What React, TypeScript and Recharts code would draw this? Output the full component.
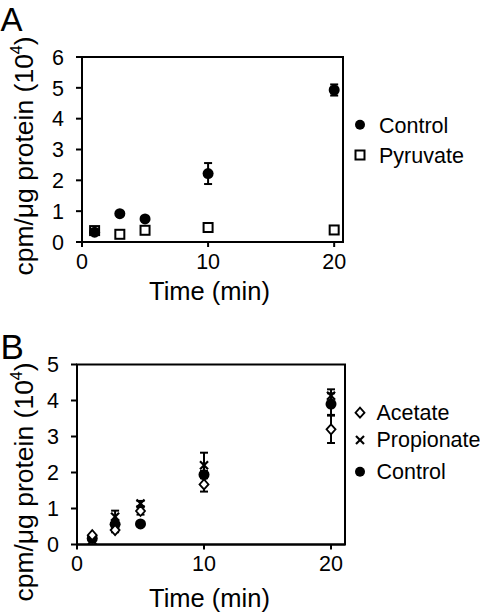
import React from 'react';
import { ScatterChart, Scatter, XAxis, YAxis, ErrorBar, ReferenceArea } from 'recharts';

// Panel A
const timeA = [1, 3, 5, 10, 20];
const controlA = [0.32, 0.92, 0.75, 2.22, 4.93];
const controlAErr = [null, null, null, 0.34, 0.18];
const pyruvateA = [0.37, 0.25, 0.38, 0.47, 0.39];
const pyruvateAErr = [null, null, null, null, null];
const yTicksA = [0, 1, 2, 3, 4, 5, 6];
const xTicks = [0, 10, 20];

// Panel B
const timeB = [1.2, 3, 5, 10, 20];
const acetateB = [0.26, 0.4, 0.93, 1.67, 3.2];
const acetateBErr = [null, 0.06, 0.1, 0.2, 0.38];
const propionateB = [0.12, 0.77, 1.14, 2.2, 4.13];
const propionateBErr = [null, 0.17, 0.07, 0.35, 0.18];
const controlB = [0.17, 0.56, 0.57, 1.94, 3.9];
const controlBErr = [null, 0.1, null, 0.1, 0.3];
const yTicksB = [0, 1, 2, 3, 4, 5];

const FONT = '"Liberation Sans", Arial, sans-serif';

const build = (t: number[], y: number[], e: (number | null)[]) =>
  t.map((tt, i) => ({ t: tt, y: y[i], err: e[i] }));

const Circle = (p: any) => <circle cx={p.cx} cy={p.cy} r={5.5} fill="#000" />;
const Square = (p: any) => (
  <rect x={p.cx - 4.5} y={p.cy - 4.5} width={9} height={9} fill="#fff" stroke="#000" strokeWidth={2} />
);
const Diamond = (p: any) => (
  <path
    d={`M${p.cx},${p.cy - 5} L${p.cx + 4.5},${p.cy} L${p.cx},${p.cy + 5} L${p.cx - 4.5},${p.cy} Z`}
    fill="#fff"
    stroke="#000"
    strokeWidth={1.8}
  />
);
const Cross = (p: any) => (
  <g stroke="#000" strokeWidth={2.2}>
    <line x1={p.cx - 4} y1={p.cy - 4} x2={p.cx + 4} y2={p.cy + 4} />
    <line x1={p.cx - 4} y1={p.cy + 4} x2={p.cx + 4} y2={p.cy - 4} />
  </g>
);
const NoShape = () => <g />;

const XTick = (p: any) => (
  <text x={p.x} y={p.y + 15.5} textAnchor="middle" fontSize={21.5} fontFamily={FONT} fill="#000">
    {p.payload.value}
  </text>
);
const YTick = (p: any) => (
  <text x={p.x} y={p.y + 7.7} textAnchor="end" fontSize={21.5} fontFamily={FONT} fill="#000">
    {p.payload.value}
  </text>
);

const axisLine = { stroke: '#000', strokeWidth: 2 };

const errBar = <ErrorBar dataKey="err" direction="y" width={4} stroke="#000" strokeWidth={2} />;

export default function App() {
  const dA_control = build(timeA, controlA, controlAErr);
  const dA_pyr = build(timeA, pyruvateA, pyruvateAErr);
  const dB_ace = build(timeB, acetateB, acetateBErr);
  const dB_pro = build(timeB, propionateB, propionateBErr);
  const dB_con = build(timeB, controlB, controlBErr);

  const xDomA: [number, number] = [0, 20.7];
  const xDomB: [number, number] = [0, 21.1];

  return (
    <div style={{ position: 'absolute', left: 0, top: 0, width: 480, height: 613, background: '#fff', fontFamily: FONT }}>
      <div style={{ position: 'absolute', left: 0, top: 0 }}>
        <ScatterChart width={480} height={315} margin={{ top: 57, right: 137, bottom: 0, left: 0 }}>
          <ReferenceArea x1={xDomA[0]} x2={xDomA[1]} y1={0} y2={6} fill="none" stroke="#000" strokeWidth={2} />
          <XAxis
            type="number"
            dataKey="t"
            domain={xDomA}
            ticks={xTicks}
            height={73}
            tickSize={5}
            tickMargin={6}
            tick={<XTick />}
            axisLine={axisLine}
            tickLine={axisLine}
            allowDataOverflow
          />
          <YAxis
            type="number"
            dataKey="y"
            domain={[0, 6]}
            ticks={yTicksA}
            width={82}
            tickSize={6}
            tickMargin={12}
            tick={<YTick />}
            axisLine={axisLine}
            tickLine={axisLine}
            allowDataOverflow
          />
          <Scatter data={dA_pyr} dataKey="y" shape={NoShape} isAnimationActive={false}>{errBar}</Scatter>
          <Scatter data={dA_control} dataKey="y" shape={NoShape} isAnimationActive={false}>{errBar}</Scatter>
          <Scatter data={dA_pyr} dataKey="y" shape={Square} isAnimationActive={false} />
          <Scatter data={dA_control} dataKey="y" shape={Circle} isAnimationActive={false} />
        </ScatterChart>
      </div>
      <div style={{ position: 'absolute', left: 0, top: 315 }}>
        <ScatterChart width={480} height={298} margin={{ top: 49.5, right: 135, bottom: 0, left: 0 }}>
          <ReferenceArea x1={xDomB[0]} x2={xDomB[1]} y1={0} y2={5} fill="none" stroke="#000" strokeWidth={2} />
          <XAxis
            type="number"
            dataKey="t"
            domain={xDomB}
            ticks={xTicks}
            height={68.5}
            tickSize={5}
            tickMargin={6}
            tick={<XTick />}
            axisLine={axisLine}
            tickLine={axisLine}
            allowDataOverflow
          />
          <YAxis
            type="number"
            dataKey="y"
            domain={[0, 5]}
            ticks={yTicksB}
            width={77}
            tickSize={6}
            tickMargin={12}
            tick={<YTick />}
            axisLine={axisLine}
            tickLine={axisLine}
            allowDataOverflow
          />
          <Scatter data={dB_con} dataKey="y" shape={NoShape} isAnimationActive={false}>{errBar}</Scatter>
          <Scatter data={dB_pro} dataKey="y" shape={NoShape} isAnimationActive={false}>{errBar}</Scatter>
          <Scatter data={dB_ace} dataKey="y" shape={NoShape} isAnimationActive={false}>{errBar}</Scatter>
          <Scatter data={dB_con} dataKey="y" shape={Circle} isAnimationActive={false} />
          <Scatter data={dB_pro} dataKey="y" shape={Cross} isAnimationActive={false} />
          <Scatter data={dB_ace} dataKey="y" shape={Diamond} isAnimationActive={false} />
        </ScatterChart>
      </div>
      <svg
        width={480}
        height={613}
        style={{ position: 'absolute', left: 0, top: 0, pointerEvents: 'none' }}
        fontFamily={FONT}
      >
        {/* Panel letters */}
        <text x={0.5} y={31} fontSize={33} fill="#000">A</text>
        <text x={0.5} y={358.5} fontSize={35} fill="#000">B</text>

        {/* Axis titles */}
        <text x={209.5} y={300} fontSize={25.5} textAnchor="middle" fill="#000">Time (min)</text>
        <text x={209.5} y={606.5} fontSize={25.5} textAnchor="middle" fill="#000">Time (min)</text>
        <text transform="translate(33,156) rotate(-90)" fontSize={26.5} textAnchor="middle" fill="#000">
          cpm/μg protein (10<tspan fontSize={16} dy={-11}>4</tspan><tspan dy={11}>)</tspan>
        </text>
        <text transform="translate(33,482) rotate(-90)" fontSize={26.5} textAnchor="middle" fill="#000">
          cpm/μg protein (10<tspan fontSize={16} dy={-11}>4</tspan><tspan dy={11}>)</tspan>
        </text>

        {/* Legend A */}
        <circle cx={360} cy={124.7} r={5} fill="#000" />
        <text x={379} y={132.5} fontSize={21.5} fill="#000">Control</text>
        <rect x={355.5} y={150.5} width={9} height={9} fill="#fff" stroke="#000" strokeWidth={2} />
        <text x={379} y={163} fontSize={21.5} fill="#000">Pyruvate</text>

        {/* Legend B */}
        <path d="M360,407.7 L364.5,412.7 L360,417.7 L355.5,412.7 Z" fill="#fff" stroke="#000" strokeWidth={1.8} />
        <text x={376.5} y={420} fontSize={21.5} fill="#000">Acetate</text>
        <g stroke="#000" strokeWidth={2.2}>
          <line x1={356} y1={436} x2={364} y2={444} />
          <line x1={356} y1={444} x2={364} y2={436} />
        </g>
        <text x={376.5} y={447} fontSize={21.5} fill="#000">Propionate</text>
        <circle cx={360} cy={471.7} r={5} fill="#000" />
        <text x={376.5} y={479} fontSize={21.5} fill="#000">Control</text>
      </svg>
    </div>
  );
}
